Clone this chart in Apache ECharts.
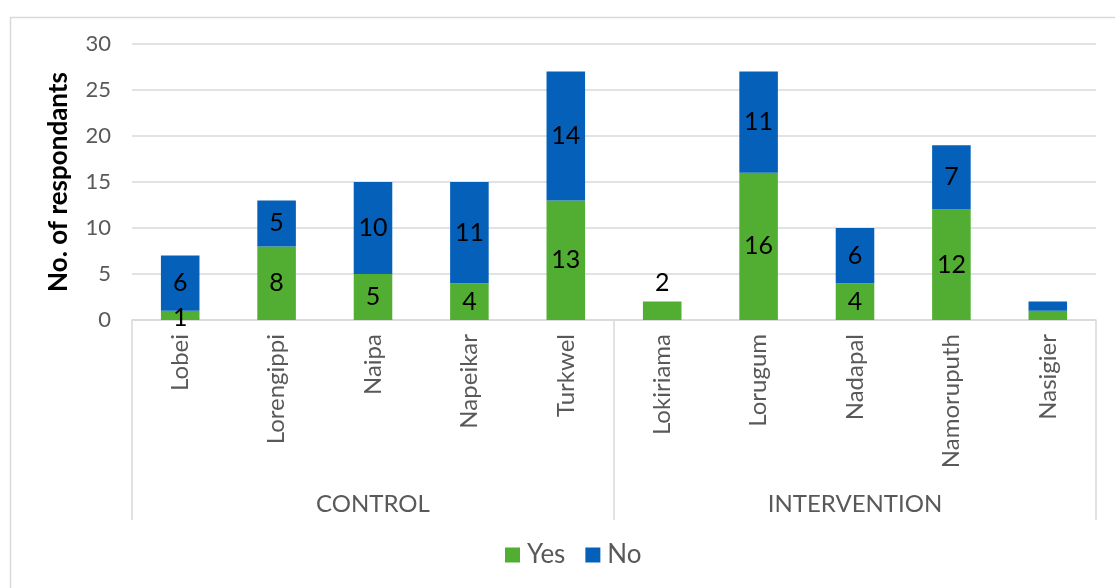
<!DOCTYPE html>
<html>
<head>
<meta charset="utf-8">
<style>
  html, body { margin: 0; padding: 0; background: #ffffff; }
  #chart { width: 1115px; height: 588px; }
</style>
<script src="https://cdn.jsdelivr.net/npm/echarts@6/dist/echarts.min.js"></script>
</head>
<body>
<div id="chart"></div>
<script>
// Villages and their study arm
const villages = ['Lobei', 'Lorengippi', 'Naipa', 'Napeikar', 'Turkwel',
                  'Lokiriama', 'Lorugum', 'Nadapal', 'Namoruputh', 'Nasigier'];
const groups = ['CONTROL', 'INTERVENTION'];

// Respondent counts per village
const yesCounts = [1, 8, 5, 4, 13, 2, 16, 4, 12, 1];
const noCounts  = [6, 5, 10, 11, 14, 0, 11, 6, 7, 1];

// Villages whose bars carry no value labels
const unlabeled = ['Nasigier'];

const yTicks = [0, 5, 10, 15, 20, 25, 30];

const GREEN = '#52AE32';
const BLUE = '#0560BA';
const FONT = 'Lato';

const chart = echarts.init(document.getElementById('chart'), null, { renderer: 'canvas' });

const labelBase = {
  show: true,
  color: '#000000',
  fontFamily: FONT,
  fontSize: 25
};

const yesData = yesCounts.map((v, i) => {
  const item = { value: v };
  if (unlabeled.includes(villages[i])) {
    item.label = { show: false };
  } else if (noCounts[i] === 0) {
    item.label = { position: 'top', distance: 6 };
  } else if (v === 1) {
    item.label = { position: 'inside', offset: [0, 3] };
  }
  return item;
});

const noData = noCounts.map((v, i) => {
  const item = { value: v === 0 ? null : v };
  if (unlabeled.includes(villages[i])) item.label = { show: false };
  return item;
});

chart.setOption({
  animation: false,
  backgroundColor: '#ffffff',
  graphic: [{
    type: 'rect',
    left: 8, top: 15,
    shape: { width: 1120, height: 600 },
    style: { fill: 'none', stroke: '#d9d9d9', lineWidth: 1.5 },
    silent: true
  }],
  grid: { left: 132, right: 19, top: 44, bottom: 268 },
  legend: {
    bottom: 15,
    left: 500,
    itemWidth: 15,
    itemHeight: 15,
    itemGap: 20,
    icon: 'rect',
    textStyle: { color: '#595959', fontFamily: FONT, fontSize: 26, padding: [0, 0, 0, 2] },
    data: ['Yes', 'No']
  },
  xAxis: [{
    type: 'category',
    data: villages,
    position: 'bottom',
    axisLine: { show: true, lineStyle: { color: '#d9d9d9', width: 1.5 } },
    axisTick: { show: false },
    axisLabel: {
      rotate: 90,
      margin: 14,
      color: '#595959',
      fontFamily: FONT,
      fontSize: 24,
      interval: 0
    }
  }, {
    type: 'category',
    data: groups,
    position: 'bottom',
    axisLine: { show: false },
    axisTick: {
      show: true,
      length: 200,
      alignWithLabel: false,
      lineStyle: { color: '#d9d9d9', width: 1.5 }
    },
    axisLabel: {
      margin: 172,
      color: '#595959',
      fontFamily: FONT,
      fontSize: 24,
      interval: 0
    },
    splitLine: { show: false }
  }],
  yAxis: {
    type: 'value',
    min: 0,
    max: yTicks[yTicks.length - 1],
    interval: yTicks[1] - yTicks[0],
    name: 'No. of respondants',
    nameLocation: 'middle',
    nameGap: 60,
    nameTextStyle: { color: '#000000', fontFamily: FONT, fontSize: 26, fontWeight: 'bold' },
    axisLine: { show: false },
    axisTick: { show: false },
    axisLabel: { color: '#595959', fontFamily: FONT, fontSize: 22, margin: 21 },
    splitLine: { lineStyle: { color: '#d9d9d9', width: 1.5 } }
  },
  series: [{
    name: 'Yes',
    type: 'bar',
    stack: 'total',
    xAxisIndex: 0,
    barWidth: '40%',
    itemStyle: { color: GREEN },
    label: Object.assign({ position: 'inside' }, labelBase),
    data: yesData
  }, {
    name: 'No',
    type: 'bar',
    stack: 'total',
    xAxisIndex: 0,
    barWidth: '40%',
    itemStyle: { color: BLUE },
    label: Object.assign({ position: 'inside' }, labelBase),
    data: noData
  }]
});
</script>
</body>
</html>
